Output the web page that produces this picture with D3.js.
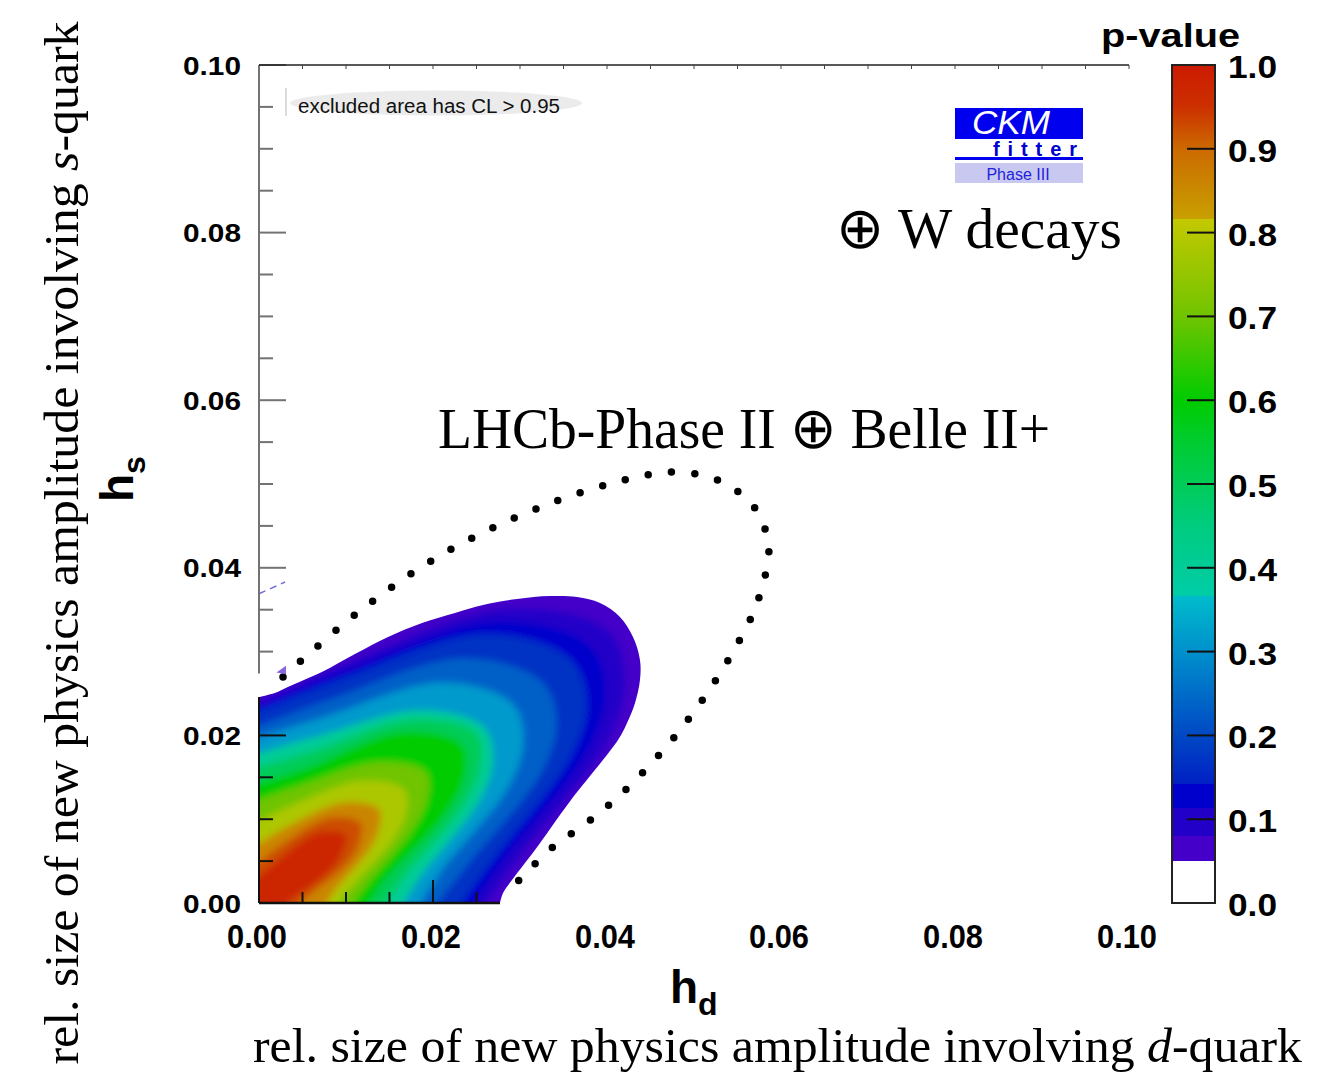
<!DOCTYPE html>
<html>
<head>
<meta charset="utf-8">
<title>h_d vs h_s p-value</title>
<script src="https://cdn.jsdelivr.net/npm/d3@7"></script>
<style>
body { margin: 0; background: #fff; }
</style>
</head>
<body>
<svg id="chart" width="1318" height="1073"></svg>
<script>
// ticks
var xTicks = [0, 0.02, 0.04, 0.06, 0.08, 0.10];
var yTicks = [0, 0.02, 0.04, 0.06, 0.08, 0.10];
var zTicks = [0, 0.1, 0.2, 0.3, 0.4, 0.5, 0.6, 0.7, 0.8, 0.9, 1.0];

// p-value palette (doubled stops = colour jumps)
var paletteP = [0.05, 0.08, 0.0801, 0.113, 0.1131, 0.142, 0.1421, 0.2, 0.3, 0.366, 0.3661,
                0.45, 0.55, 0.6, 0.7, 0.8, 0.816, 0.8161, 0.9, 0.95, 1.0];
var paletteColor = ["#4400c8", "#4400c8", "#2200c8", "#2200c8", "#0000cc", "#0000cc", "#0020c4",
                    "#0048c4", "#0090cc", "#00bccc", "#00cca8", "#00cc80", "#00cc30", "#00cc00",
                    "#70c400", "#b8c800", "#c4c800", "#c8a000", "#cc6a00", "#cc3000", "#cc1a00"];

// p-value levels, one outline each: [h_d, h_s] from the left axis round to the bottom axis
var pLevels = [0.05, 0.08, 0.113, 0.14, 0.2, 0.27, 0.36, 0.45, 0.55, 0.65, 0.75, 0.816, 0.9, 0.95];
var c005 = [[0, 0.02458], [0.00184, 0.02506], [0.00333, 0.02578], [0.00724, 0.02757], [0.01103, 0.02971],
            [0.01483, 0.03174], [0.01874, 0.03341], [0.02253, 0.03461], [0.02575, 0.03556], [0.02966, 0.03628],
            [0.03345, 0.03663], [0.03655, 0.03652], [0.03920, 0.03580], [0.04149, 0.03413], [0.04299, 0.03174],
            [0.04379, 0.02900], [0.04379, 0.02661], [0.04322, 0.02387], [0.04230, 0.02148], [0.04126, 0.01945],
            [0.03586, 0.01229], [0.03172, 0.00632], [0.02908, 0.00274], [0.02805, 0.00119], [0.02770, 0]];
var c008 = [[0, 0.0240], [0.0100, 0.0285], [0.0283, 0.0350], [0.0400, 0.0325], [0.0420, 0.0267], [0.0400, 0.0194], [0.0298, 0.0055], [0.0260, 0]];
var c0113 = [[0, 0.0234], [0.0097, 0.0276], [0.0271, 0.0336], [0.0379, 0.0308], [0.0398, 0.0253], [0.0379, 0.0184], [0.0282, 0.0052], [0.0247, 0]];
var c014 = [[0, 0.0229], [0.0094, 0.0267], [0.0260, 0.0321], [0.0358, 0.0291], [0.0377, 0.0239], [0.0358, 0.0174], [0.0267, 0.0049], [0.0233, 0]];
var c020 = [[0, 0.0211], [0.0085, 0.0244], [0.0236, 0.0292], [0.0325, 0.0264], [0.0342, 0.0217], [0.0325, 0.0157], [0.0238, 0.0044], [0.0205, 0]];
var c027 = [[0, 0.0197], [0.0078, 0.0223], [0.0212, 0.0263], [0.0292, 0.0237], [0.0304, 0.0193], [0.0287, 0.0139], [0.0210, 0.0039], [0.0186, 0]];
var c036 = [[0, 0.0179], [0.0070, 0.0200], [0.0186, 0.0230], [0.0258, 0.0210], [0.0269, 0.0171], [0.0254, 0.0123], [0.0188, 0.0035], [0.0166, 0]];
var c045 = [[0, 0.0162], [0.0064, 0.0182], [0.0177, 0.0219], [0.0250, 0.0203], [0.0254, 0.0161], [0.0233, 0.0113], [0.0166, 0.0030], [0.0147, 0]];
var c055 = [[0, 0.0143], [0.0057, 0.0162], [0.0165, 0.0204], [0.0233, 0.0189], [0.0236, 0.0150], [0.0212, 0.0103], [0.0144, 0.0026], [0.0127, 0]];
var c065 = [[0, 0.0123], [0.0049, 0.0141], [0.0136, 0.0168], [0.0192, 0.0156], [0.0193, 0.0122], [0.0175, 0.0085], [0.0125, 0.0023], [0.0108, 0]];
var c075 = [[0, 0.0098], [0.0041, 0.0118], [0.0118, 0.0146], [0.0167, 0.0135], [0.0169, 0.0107], [0.0154, 0.0075], [0.0107, 0.0020], [0.0091, 0]];
var c0816 = [[0, 0.0071], [0.0032, 0.0091], [0.0097, 0.0120], [0.0138, 0.0112], [0.0138, 0.0088], [0.0125, 0.0061], [0.0088, 0.0016], [0.0078, 0]];
var c090 = [[0, 0.0049], [0.0024, 0.0068], [0.0083, 0.0102], [0.0117, 0.0095], [0.0116, 0.0074], [0.0104, 0.0050], [0.0060, 0.0011], [0.0047, 0]];
var c095 = [[0, 0.0032], [0.0017, 0.0047], [0.0068, 0.0084], [0.0100, 0.0081], [0.0096, 0.0061], [0.0083, 0.0040], [0.0044, 0.0008], [0.0033, 0]];
var contours = [c005, c008, c0113, c014, c020, c027, c036, c045, c055, c065, c075, c0816, c090, c095];

// dotted outline (LHCb-Phase II + Belle II+)
var dotted = [[0.00276, 0.02697], [0.01115, 0.03449], [0.02092, 0.04153], [0.03241, 0.04726], [0.04299, 0.05072],
              [0.04839, 0.05143], [0.05322, 0.05024], [0.05690, 0.04726], [0.05851, 0.04332], [0.05851, 0.04093],
              [0.05713, 0.03544], [0.05460, 0.03019], [0.05161, 0.02518], [0.04839, 0.02064], [0.04494, 0.01647],
              [0.04149, 0.01289], [0.03782, 0.00967], [0.03379, 0.00668], [0.02989, 0.00274], [0.02828, 0.00095]];

// small leftovers near the left axis
var dashBit = [[0, 0.0369], [0.0030, 0.0383]];
var triBit = [[0.0020, 0.0275], [0.0031, 0.0283], [0.0031, 0.0273]];

var sans = "'Liberation Sans', Arial, Helvetica, sans-serif";
var serif = "'Liberation Serif', 'Times New Roman', serif";

var svg = d3.select("#chart");
var defs = svg.append("defs");
var x = d3.scaleLinear().domain([0, 0.1]).range([259, 1129]);
var y = d3.scaleLinear().domain([0, 0.1]).range([903, 65]);
var z = d3.scaleLinear().domain([0, 1]).range([903, 65]);
var color = d3.scaleLinear().domain(paletteP).range(paletteColor).clamp(true);

var line = d3.line()
  .x(function(d){ return x(d[0]); })
  .y(function(d){ return y(d[1]); })
  .curve(d3.curveCatmullRom.alpha(0.5));

var bandColor = function(i){
  var lo = pLevels[i], hi = i < pLevels.length - 1 ? pLevels[i + 1] : 1;
  return color((lo + hi) / 2);
};

// dotted outline first, the filled region sits over its end
svg.append("path")
  .attr("d", line(dotted))
  .attr("fill", "none")
  .attr("stroke", "#000")
  .attr("stroke-width", 7.5)
  .attr("stroke-linecap", "round")
  .attr("stroke-dasharray", "0 23.5");

// outer band with a sharp edge
var outerPath = line(c005) + "L" + x(0) + "," + y(0) + "Z";
defs.append("clipPath").attr("id", "clipOuter").append("path").attr("d", outerPath);
svg.append("path").attr("d", outerPath).attr("fill", bandColor(0));

// inner bands, softened a little so the steps read as a gradient
defs.append("filter").attr("id", "soft")
  .attr("x", -0.1).attr("y", -0.1).attr("width", 1.2).attr("height", 1.2)
  .append("feGaussianBlur").attr("stdDeviation", 3.5);
svg.append("g").attr("clip-path", "url(#clipOuter)")
  .append("g").attr("filter", "url(#soft)")
  .selectAll("path")
  .data(contours.slice(1))
  .enter().append("path")
  .attr("d", function(c){
    var a = c[0], b = c[c.length - 1];
    return line(c) + "L" + x(b[0]) + "," + (y(0) + 14) + "L" + (x(0) - 14) + "," + (y(0) + 14) +
           "L" + (x(0) - 14) + "," + y(a[1]) + "Z";
  })
  .attr("fill", function(c, i){ return bandColor(i + 1); });

svg.append("path")
  .attr("d", d3.line().x(function(d){ return x(d[0]); }).y(function(d){ return y(d[1]); })(dashBit))
  .attr("stroke", "#7070dd").attr("stroke-width", 1.5).attr("stroke-dasharray", "7 5").attr("fill", "none");
svg.append("path")
  .attr("d", d3.line().x(function(d){ return x(d[0]); }).y(function(d){ return y(d[1]); })(triBit) + "Z")
  .attr("fill", "#8866dd");

// ---- axes ----
var topV = c005[0][1];          // where colour starts on the left axis
var gapV = 0.0274;              // white gap above it
var minor = d3.range(0, 0.1001, 0.005);
var isMajor = function(v){ return Math.abs(v / 0.02 - Math.round(v / 0.02)) < 1e-6; };

// left axis
svg.append("line").attr("x1", x(0)).attr("x2", x(0)).attr("y1", y(0.1)).attr("y2", y(gapV))
  .attr("stroke", "#737373").attr("stroke-width", 2);
svg.append("line").attr("x1", x(0)).attr("x2", x(0)).attr("y1", y(topV)).attr("y2", y(0))
  .attr("stroke", "#111").attr("stroke-width", 2);
svg.append("g").selectAll("line")
  .data(minor.filter(function(v){ return v <= topV || v >= gapV; }))
  .enter().append("line")
  .attr("x1", x(0))
  .attr("x2", function(v){ return x(0) + (isMajor(v) ? 27 : 14); })
  .attr("y1", function(v){ return y(v); })
  .attr("y2", function(v){ return y(v); })
  .attr("stroke", function(v){ return v <= topV ? "#111" : "#737373"; })
  .attr("stroke-width", 2);

// top axis
svg.append("line").attr("x1", x(0)).attr("x2", x(0.1)).attr("y1", y(0.1)).attr("y2", y(0.1))
  .attr("stroke", "#222").attr("stroke-width", 1.3);
svg.append("g").selectAll("line")
  .data(minor.slice(1))
  .enter().append("line")
  .attr("x1", function(v){ return x(v); }).attr("x2", function(v){ return x(v); })
  .attr("y1", y(0.1)).attr("y2", y(0.1) + 4)
  .attr("stroke", "#444").attr("stroke-width", 1);

// bottom axis, only seen under the coloured region
var endV = c005[c005.length - 1][0];
svg.append("line").attr("x1", x(0)).attr("x2", x(endV)).attr("y1", y(0)).attr("y2", y(0))
  .attr("stroke", "#111").attr("stroke-width", 2.5);
svg.append("g").selectAll("line")
  .data(minor.filter(function(v){ return v > 0 && v < endV; }))
  .enter().append("line")
  .attr("x1", function(v){ return x(v); }).attr("x2", function(v){ return x(v); })
  .attr("y1", y(0))
  .attr("y2", function(v){ return y(0) - (isMajor(v) ? 23 : 11); })
  .attr("stroke", "#111").attr("stroke-width", 2);

// tick labels
svg.append("g").selectAll("text")
  .data(yTicks)
  .enter().append("text")
  .attr("x", 241)
  .attr("y", function(v){ return y(v) + 9.5; })
  .attr("text-anchor", "end")
  .attr("font-family", sans).attr("font-weight", "bold").attr("font-size", 25)
  .attr("textLength", 58).attr("lengthAdjust", "spacingAndGlyphs")
  .text(function(v){ return v.toFixed(2); });

svg.append("g").selectAll("text")
  .data(xTicks)
  .enter().append("text")
  .attr("x", function(v){ return x(v) - 32; })
  .attr("y", 948)
  .attr("font-family", sans).attr("font-weight", "bold").attr("font-size", 33)
  .attr("textLength", 60).attr("lengthAdjust", "spacingAndGlyphs")
  .text(function(v){ return v.toFixed(2); });

// ---- colour bar ----
var grad = defs.append("linearGradient")
  .attr("id", "pgrad").attr("x1", 0).attr("y1", 1).attr("x2", 0).attr("y2", 0);
grad.append("stop").attr("offset", 0).attr("stop-color", "#fff");
grad.append("stop").attr("offset", 0.05).attr("stop-color", "#fff");
grad.selectAll("stop.p")
  .data(paletteP)
  .enter().append("stop")
  .attr("class", "p")
  .attr("offset", function(d){ return d; })
  .attr("stop-color", function(d, i){ return paletteColor[i]; });

svg.append("rect")
  .attr("x", 1172).attr("y", z(1)).attr("width", 43).attr("height", z(0) - z(1))
  .attr("fill", "url(#pgrad)").attr("stroke", "#222").attr("stroke-width", 2);
svg.append("g").selectAll("line")
  .data(zTicks.slice(1, -1))
  .enter().append("line")
  .attr("x1", 1187).attr("x2", 1215)
  .attr("y1", function(v){ return z(v); }).attr("y2", function(v){ return z(v); })
  .attr("stroke", "#111").attr("stroke-width", 2);
svg.append("g").selectAll("text")
  .data(zTicks)
  .enter().append("text")
  .attr("x", 1228)
  .attr("y", function(v){ return z(v) + 13; })
  .attr("font-family", sans).attr("font-weight", "bold").attr("font-size", 32)
  .attr("textLength", 49).attr("lengthAdjust", "spacingAndGlyphs")
  .text(function(v){ return v.toFixed(1); });
svg.append("text")
  .attr("x", 1101).attr("y", 47)
  .attr("font-family", sans).attr("font-weight", "bold").attr("font-size", 33)
  .attr("textLength", 139).attr("lengthAdjust", "spacingAndGlyphs")
  .text("p-value");

// ---- legend box ----
svg.append("line").attr("x1", 286).attr("x2", 286).attr("y1", 88).attr("y2", 116)
  .attr("stroke", "#cfcfcf").attr("stroke-width", 1.5);
svg.append("ellipse").attr("cx", 436).attr("cy", 103).attr("rx", 146).attr("ry", 12.5)
  .attr("fill", "#ebebeb");
svg.append("text")
  .attr("x", 298).attr("y", 113)
  .attr("font-family", sans).attr("font-size", 19.5).attr("fill", "#111")
  .attr("textLength", 262).attr("lengthAdjust", "spacingAndGlyphs")
  .text("excluded area has CL > 0.95");

// ---- CKMfitter logo ----
var logo = svg.append("g");
logo.append("rect").attr("x", 955).attr("y", 108).attr("width", 128).attr("height", 31).attr("fill", "#0000ee");
logo.append("text").attr("x", 972).attr("y", 134)
  .attr("font-family", sans).attr("font-style", "italic").attr("font-size", 33).attr("fill", "#fff")
  .attr("textLength", 78).attr("lengthAdjust", "spacingAndGlyphs").text("CKM");
logo.append("text").attr("x", 993).attr("y", 156)
  .attr("font-family", sans).attr("font-weight", "bold").attr("font-size", 20).attr("fill", "#0000cc")
  .attr("textLength", 84).attr("lengthAdjust", "spacing").text("fitter");
logo.append("rect").attr("x", 955).attr("y", 157).attr("width", 128).attr("height", 3).attr("fill", "#0000ee");
logo.append("rect").attr("x", 955).attr("y", 163).attr("width", 128).attr("height", 20).attr("fill", "#c8c8f0");
logo.append("text").attr("x", 1018).attr("y", 180).attr("text-anchor", "middle")
  .attr("font-family", sans).attr("font-size", 16).attr("fill", "#2222dd").text("Phase III");

// ---- annotations ----
svg.append("text").attr("x", 836).attr("y", 248)
  .attr("font-family", serif).attr("font-size", 58).attr("fill", "#000")
  .attr("textLength", 286).attr("lengthAdjust", "spacingAndGlyphs")
  .text("\u2295 W decays");
svg.append("text").attr("x", 438).attr("y", 448)
  .attr("font-family", serif).attr("font-size", 58).attr("fill", "#000")
  .attr("textLength", 612).attr("lengthAdjust", "spacingAndGlyphs")
  .text("LHCb-Phase II \u2295 Belle II+");

// ---- axis titles ----
var hd = svg.append("text").attr("x", 670).attr("y", 1003)
  .attr("font-family", sans).attr("font-weight", "bold").attr("font-size", 46);
hd.append("tspan").text("h");
hd.append("tspan").attr("font-size", 32).attr("dy", 12).text("d");

var hs = svg.append("text").attr("transform", "translate(133,502) rotate(-90)")
  .attr("font-family", sans).attr("font-weight", "bold").attr("font-size", 46);
hs.append("tspan").text("h");
hs.append("tspan").attr("font-size", 32).attr("dy", 12).text("s");

var xt = svg.append("text").attr("x", 253).attr("y", 1062)
  .attr("font-family", serif).attr("font-size", 48)
  .attr("textLength", 1049).attr("lengthAdjust", "spacingAndGlyphs");
xt.append("tspan").text("rel. size of new physics amplitude involving ");
xt.append("tspan").attr("font-style", "italic").text("d");
xt.append("tspan").text("-quark");

var yt = svg.append("text").attr("transform", "translate(78,543) rotate(-90)")
  .attr("text-anchor", "middle")
  .attr("font-family", serif).attr("font-size", 48)
  .attr("textLength", 1043).attr("lengthAdjust", "spacingAndGlyphs");
yt.append("tspan").text("rel. size of new physics amplitude involving ");
yt.append("tspan").attr("font-style", "italic").text("s");
yt.append("tspan").text("-quark");
</script>
</body>
</html>
